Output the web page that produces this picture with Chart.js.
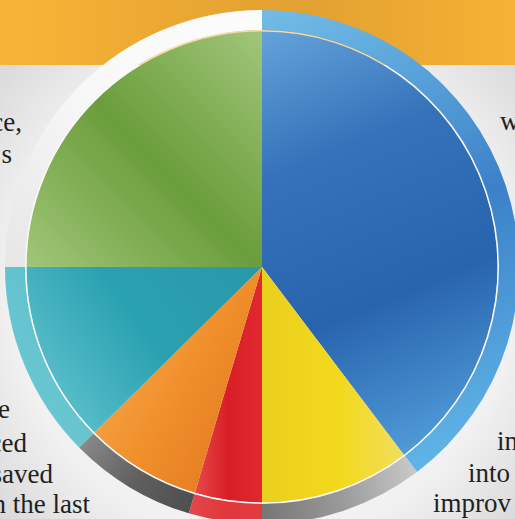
<!DOCTYPE html>
<html>
<head>
<meta charset="utf-8">
<script src="https://cdn.jsdelivr.net/npm/chart.js"></script>
<style>
  html, body { margin: 0; padding: 0; }
  body {
    width: 515px; height: 519px; overflow: hidden; position: relative;
    background: radial-gradient(circle at 262px 290px, #fbfbfb 0, #f1f1f2 250px, #d3d3d5 370px);
    font-family: 'Liberation Serif', 'DejaVu Serif', serif;
  }
  #band {
    position: absolute; left: 0; top: 0; width: 515px; height: 65px;
    background: linear-gradient(to right, #f7b537 0%, #e6a432 45%, #e2a131 60%, #f6b234 100%);
  }
  .txt { position: absolute; font-size: 27px; line-height: 27px; color: #231f20; white-space: nowrap; }
  .r { text-align: right; }
  #pie { position: absolute; left: 5px; top: 10px; }
</style>
</head>
<body>
<div id="band"></div>

<!-- bits of the article text around the chart (baseline ~ top + 22) -->
<div class="txt r" style="right:493px; top:109px;">ce,</div>
<div class="txt r" style="right:503px; top:141px;">s</div>
<div class="txt r" style="right:505px; top:396px;">e</div>
<div class="txt r" style="right:488px; top:430px;">ced</div>
<div class="txt r" style="right:462px; top:461px;">saved</div>
<div class="txt r" style="right:425px; top:491px;">n the last</div>
<div class="txt" style="left:500px; top:108px;">w</div>
<div class="txt" style="left:497px; top:428px;">in</div>
<div class="txt" style="left:468px; top:460px;">into</div>
<div class="txt" style="left:433px; top:490px;">improv</div>

<canvas id="pie" width="514" height="514"></canvas>

<script>
// slices, clockwise from 12 o'clock
const labels = ['Blue', 'Yellow', 'Red', 'Orange', 'Teal', 'Green'];
const shares = [39.7, 10.3, 4.6, 8.0, 12.4, 25.0];

// glossy face of each slice: [x0, y0, x1, y1] in radius units from the centre, then colour stops
const faceStyles = [
    [[0.0, -1.0, 0.7, 0.7], ['#6aaade', '#3572ba', '#2864ae', '#529dd9']],
    [[0.0, 0.6, 0.6, 0.6], ['#e9cf1e', '#f3d91c', '#f1de6c']],
    [[-0.27, 0.8, 0.0, 0.8], ['#e84c4c', '#d81f28', '#e2282e']],
    [[-0.75, 0.55, -0.15, 0.9], ['#f6a648', '#f08e2a', '#e27a20']],
    [[0.0, 0.0, -0.85, 0.6], ['#2898aa', '#2aa1b1', '#63c4cf']],
    [[-0.9, 0.0, 0.0, -0.9], ['#a0c577', '#6a9d3b', '#a1c579']]
];

// the bevelled rim around the pie
const rimStyles = [
    [[0.0, -1.0, 0.6, 0.8], ['#72bce6', '#3b81c9', '#60b5e6']],
    [[0.0, 0.9, 0.6, 0.8], ['#777777', '#9a9a9a', '#c9c9c9']],
    [[-0.27, 0.9, 0.0, 0.9], ['#e34548', '#e0383c', '#e23a3e']],
    [[-0.25, 0.95, -0.7, 0.65], ['#4c4c4c', '#606060', '#8c8c8c']],
    [[0.0, 0.0, -0.9, 0.6], ['#4fb8c6', '#58bdca', '#6cc8d2']],
    [[-1.0, 0.0, 0.0, -1.0], ['#e6e6e7', '#f8f8f8', '#fcfcfc']]
];

function gradientFor(styles) {
    return function (ctx) {
        const chart = ctx.chart;
        const area = chart.chartArea;
        const s = styles[ctx.dataIndex];
        if (!area || !s) return '#888';
        const cx = (area.left + area.right) / 2;
        const cy = (area.top + area.bottom) / 2;
        const r = Math.min(area.right - area.left, area.bottom - area.top) / 2;
        const p = s[0];
        const g = chart.ctx.createLinearGradient(cx + p[0] * r, cy + p[1] * r, cx + p[2] * r, cy + p[3] * r);
        const stops = s[1];
        stops.forEach((c, i) => g.addColorStop(i / (stops.length - 1), c));
        return g;
    };
}

const pieChart = new Chart(document.getElementById('pie'), {
    type: 'pie',
    data: {
        labels: labels,
        datasets: [
            {   // outer rim
                data: shares,
                backgroundColor: gradientFor(rimStyles),
                borderWidth: 0,
                hoverOffset: 0,
                weight: 20
            },
            {   // thin light line between rim and face
                data: shares,
                backgroundColor: 'rgba(255,255,255,0.6)',
                borderWidth: 0,
                hoverOffset: 0,
                weight: 1.5
            },
            {   // the slices
                data: shares,
                backgroundColor: gradientFor(faceStyles),
                borderWidth: 0,
                hoverOffset: 0,
                weight: 235.5
            }
        ]
    },
    options: {
        responsive: false,
        animation: false,
        events: [],
        layout: { padding: 0 },
        plugins: {
            legend: { display: false },
            tooltip: { enabled: false }
        }
    }
});
</script>
</body>
</html>
